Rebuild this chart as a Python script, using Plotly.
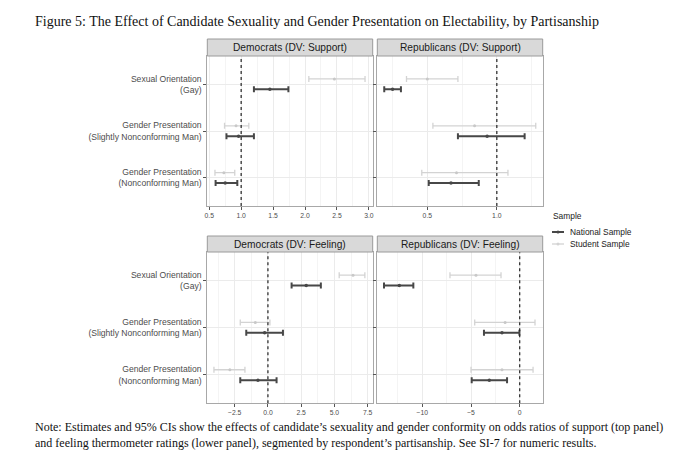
import plotly.graph_objects as go

# ---------------- data ----------------
categories = ["Sexual Orientation<br>(Gay)",
              "Gender Presentation<br>(Slightly Nonconforming Man)",
              "Gender Presentation<br>(Nonconforming Man)"]
panel_titles = ["Democrats (DV: Support)", "Republicans (DV: Support)",
                "Democrats (DV: Feeling)", "Republicans (DV: Feeling)"]
series_names = ["National Sample", "Student Sample"]
legend_title = "Sample"
ref_values = [1.0, 1.0, 0.0, 0.0]

# Democrats, support (odds ratios)
dem_sup_nat_est = [1.45, 0.96, 0.75]
dem_sup_nat_lo = [1.20, 0.77, 0.60]
dem_sup_nat_hi = [1.74, 1.20, 0.94]
dem_sup_stu_est = [2.46, 0.92, 0.73]
dem_sup_stu_lo = [2.06, 0.74, 0.59]
dem_sup_stu_hi = [2.94, 1.12, 0.90]

# Republicans, support (odds ratios)
rep_sup_nat_est = [0.25, 0.93, 0.67]
rep_sup_nat_lo = [0.19, 0.72, 0.51]
rep_sup_nat_hi = [0.31, 1.20, 0.87]
rep_sup_stu_est = [0.50, 0.84, 0.71]
rep_sup_stu_lo = [0.35, 0.54, 0.46]
rep_sup_stu_hi = [0.72, 1.28, 1.08]

# Democrats, feeling thermometer
dem_fee_nat_est = [2.88, -0.25, -0.75]
dem_fee_nat_lo = [1.78, -1.63, -2.08]
dem_fee_nat_hi = [3.98, 1.13, 0.65]
dem_fee_stu_est = [6.40, -0.95, -2.86]
dem_fee_stu_lo = [5.36, -2.08, -4.06]
dem_fee_stu_hi = [7.29, 0.15, -1.73]

# Republicans, feeling thermometer
rep_fee_nat_est = [-12.36, -1.82, -3.12]
rep_fee_nat_lo = [-13.93, -3.67, -4.93]
rep_fee_nat_hi = [-10.92, -0.03, -1.30]
rep_fee_stu_est = [-4.49, -1.50, -1.82]
rep_fee_stu_lo = [-7.16, -4.62, -5.00]
rep_fee_stu_hi = [-1.92, 1.57, 1.37]

panels = [
    ((dem_sup_nat_est, dem_sup_nat_lo, dem_sup_nat_hi), (dem_sup_stu_est, dem_sup_stu_lo, dem_sup_stu_hi)),
    ((rep_sup_nat_est, rep_sup_nat_lo, rep_sup_nat_hi), (rep_sup_stu_est, rep_sup_stu_lo, rep_sup_stu_hi)),
    ((dem_fee_nat_est, dem_fee_nat_lo, dem_fee_nat_hi), (dem_fee_stu_est, dem_fee_stu_lo, dem_fee_stu_hi)),
    ((rep_fee_nat_est, rep_fee_nat_lo, rep_fee_nat_hi), (rep_fee_stu_est, rep_fee_stu_lo, rep_fee_stu_hi)),
]

# ---------------- styling / layout ----------------
OFF = 8  # page body margin in the browser
W, H = 680 - OFF, 464 - OFF
SANS = "Liberation Sans, Arial, sans-serif"
SERIF = "Liberation Serif, Times New Roman, serif"
NAT_COLOR = "#474747"
STU_COLOR = "#D3D3D3"
GRID = "#EBEBEB"
MINOR = "#F4F4F4"
BORDER = "#A8A8A8"

def px_x(p):
    return (p - OFF) / W

def px_y(p):
    return 1 - (p - OFF) / H

col_x = [(207.3, 372.7), (377.3, 542.7)]
row_y = [(56.0, 206.0), (252.0, 403.3)]
strip_y = [(39.0, 56.0), (236.0, 252.0)]

x_ranges = [[0.47, 3.06], [0.14, 1.33], [-4.56, 7.88], [-14.62, 2.36]]
x_major = [dict(tick0=0.5, dtick=0.5, tickformat=".1f"),
           dict(tick0=0.5, dtick=0.5, tickformat=".1f"),
           dict(tick0=0, dtick=2.5, tickformat=".1f"),
           dict(tick0=0, dtick=5, tickformat="d")]
x_minor = [dict(tick0=0.25, dtick=0.5),
           dict(tick0=0.25, dtick=0.5),
           dict(tick0=1.25, dtick=2.5),
           dict(tick0=2.5, dtick=5)]

n = len(categories)
cat_pos = [n - i for i in range(n)]  # top to bottom
offset = 0.11

fig = go.Figure()
shapes = []
annotations = []
layout_axes = {}

for k, (nat, stu) in enumerate(panels):
    r, c = divmod(k, 2)
    suffix = "" if k == 0 else str(k + 1)
    xa, ya = "x" + suffix, "y" + suffix
    for s_idx, (est, lo, hi) in enumerate([stu, nat]):
        is_nat = s_idx == 1
        ys = [p + (-offset if is_nat else offset) for p in cat_pos]
        fig.add_trace(go.Scatter(
            x=est, y=ys, xaxis=xa, yaxis=ya, mode="markers",
            name=series_names[0] if is_nat else series_names[1],
            marker=dict(size=3.5 if is_nat else 3, color=NAT_COLOR if is_nat else "#C8C8C8"),
            error_x=dict(type="data", symmetric=False,
                         array=[h - e for h, e in zip(hi, est)],
                         arrayminus=[e - l for e, l in zip(est, lo)],
                         color=NAT_COLOR if is_nat else STU_COLOR,
                         thickness=2.0 if is_nat else 1.3, width=3),
            showlegend=False, hoverinfo="skip"))
    x0, x1 = col_x[c]
    y0, y1 = row_y[r]
    layout_axes["xaxis" + suffix] = dict(
        domain=[px_x(x0), px_x(x1)], anchor=ya, range=x_ranges[k], automargin=False,
        showgrid=True, gridcolor=GRID, gridwidth=1, zeroline=False,
        showline=True, mirror=True, linecolor=BORDER, linewidth=1,
        ticks="outside", ticklen=3, tickcolor="#555555",
        tickfont=dict(family=SANS, size=6.8, color="#4D4D4D"),
        minor=dict(showgrid=True, gridcolor=MINOR, gridwidth=1, ticklen=0, **x_minor[k]),
        fixedrange=True, **x_major[k])
    layout_axes["yaxis" + suffix] = dict(
        domain=[px_y(y1), px_y(y0)], anchor=xa, range=[0.4, n + 0.6], automargin=False,
        tickvals=cat_pos, ticktext=categories if c == 0 else [""] * n,
        showticklabels=(c == 0),
        showgrid=True, gridcolor=GRID, gridwidth=1, zeroline=False,
        showline=True, mirror=True, linecolor=BORDER, linewidth=1,
        ticks="outside", ticklen=3, tickcolor="#555555",
        tickfont=dict(family=SANS, size=8.6, color="#4D4D4D"),
        fixedrange=True)
    # reference line
    shapes.append(dict(type="line", xref=xa, yref=ya + " domain",
                       x0=ref_values[k], x1=ref_values[k], y0=0, y1=1,
                       line=dict(color="#222222", width=1.2, dash="3px,3px")))
    # strip
    sy0, sy1 = strip_y[r]
    shapes.append(dict(type="rect", xref="paper", yref="paper",
                       x0=px_x(x0), x1=px_x(x1), y0=px_y(sy1), y1=px_y(sy0),
                       fillcolor="#D9D9D9", line=dict(color="#9A9A9A", width=1)))
    annotations.append(dict(text=panel_titles[k], xref="paper", yref="paper",
                            x=px_x((x0 + x1) / 2), y=px_y((sy0 + sy1) / 2),
                            xanchor="center", yanchor="middle", showarrow=False,
                            font=dict(family=SANS, size=10.2, color="#1A1A1A")))

# manual legend (guide)
annotations.append(dict(text=legend_title, xref="paper", yref="paper",
                        x=px_x(551), y=px_y(216), xanchor="left", yanchor="middle",
                        showarrow=False, font=dict(family=SANS, size=8.4, color="#1A1A1A")))
leg_y = [232, 244]
leg_style = [(NAT_COLOR, 2.0), (STU_COLOR, 1.3)]
for name, ly, (col, th) in zip(series_names, leg_y, leg_style):
    shapes.append(dict(type="line", xref="paper", yref="paper",
                       x0=px_x(552), x1=px_x(564), y0=px_y(ly), y1=px_y(ly),
                       line=dict(color=col, width=th)))
    shapes.append(dict(type="circle", xref="paper", yref="paper",
                       x0=px_x(556.5), x1=px_x(559.5), y0=px_y(ly + 1.5), y1=px_y(ly - 1.5),
                       fillcolor=col, line=dict(width=0)))
    annotations.append(dict(text=name, xref="paper", yref="paper",
                            x=px_x(568), y=px_y(ly), xanchor="left", yanchor="middle",
                            showarrow=False, font=dict(family=SANS, size=8.4, color="#1A1A1A")))

annotations.append(dict(
    text="Figure 5: The Effect of Candidate Sexuality and Gender Presentation on Electability, by Partisanship",
    xref="paper", yref="paper", x=px_x(33), y=px_y(22), xanchor="left", yanchor="middle",
    showarrow=False, font=dict(family=SERIF, size=14, color="#111111")))
annotations.append(dict(
    text="Note: Estimates and 95% CIs show the effects of candidate\u2019s sexuality and gender conformity on odds ratios of support (top panel)<br>"
         "and feeling thermometer ratings (lower panel), segmented by respondent\u2019s partisanship. See SI-7 for numeric results.",
    xref="paper", yref="paper", x=px_x(33), y=px_y(435), xanchor="left", yanchor="middle",
    align="left", showarrow=False, font=dict(family=SERIF, size=12, color="#111111")))

fig.update_layout(
    width=W, height=H, margin=dict(l=0, r=0, t=0, b=0),
    paper_bgcolor="white", plot_bgcolor="white", showlegend=False,
    shapes=shapes, annotations=annotations,
    **layout_axes)

fig.write_html("out.html")
